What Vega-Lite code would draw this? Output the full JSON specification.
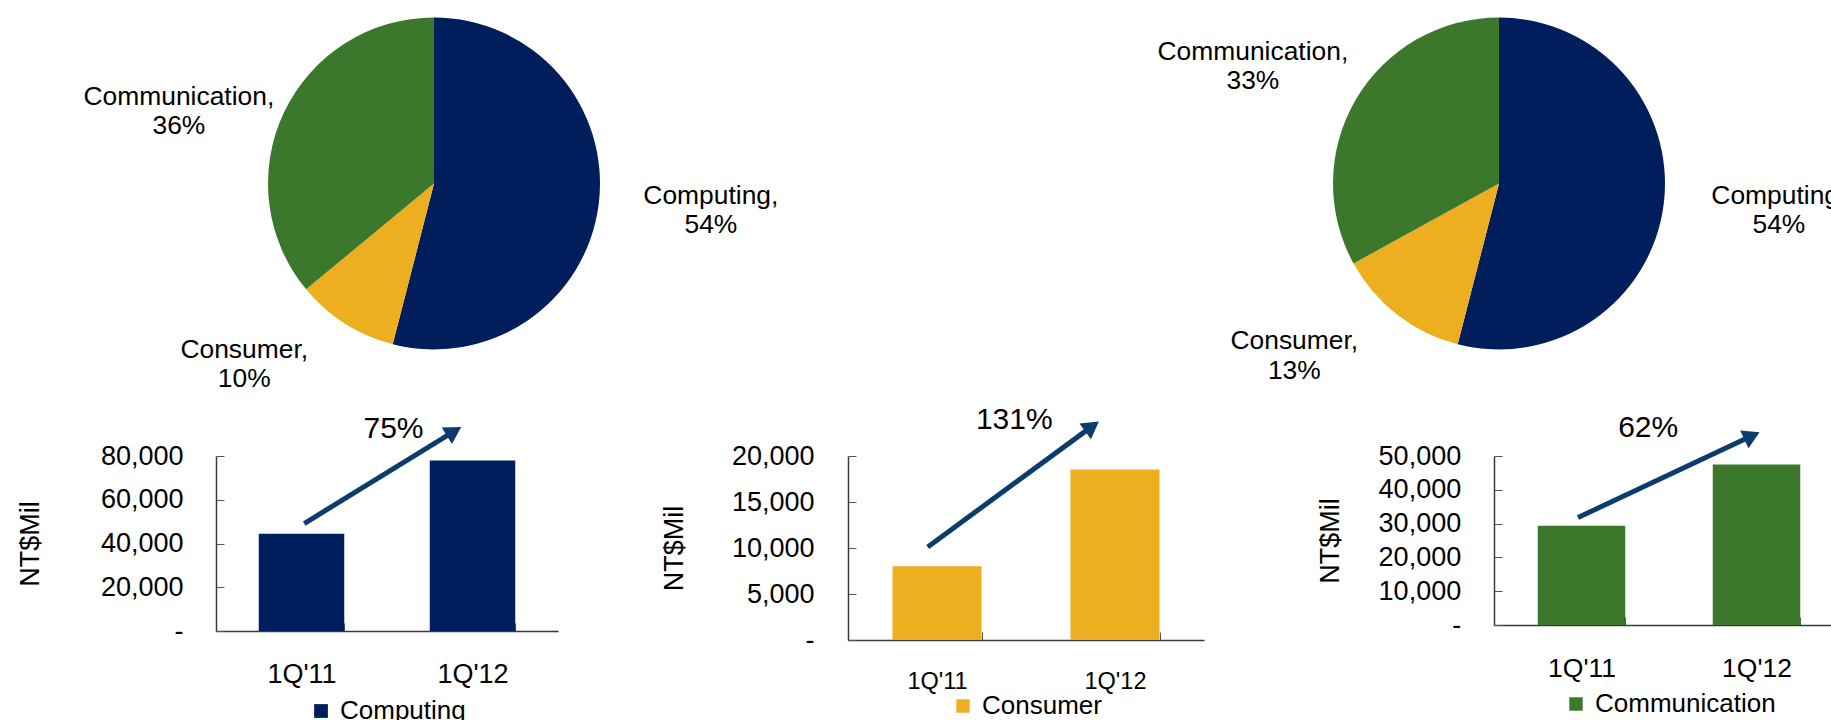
{
  "$schema": "https://vega.github.io/schema/vega-lite/v6.json",
  "background": "white",
  "padding": {"left": 16, "top": 17, "right": 0, "bottom": 0},
  "config": {
    "font": "Liberation Sans",
    "view": {"stroke": null},
    "axis": {"labelColor": "#000", "titleColor": "#000", "labelFont": "Liberation Sans", "titleFont": "Liberation Sans", "grid": false, "domainColor": "#3a3a3a", "domainWidth": 1.5, "tickColor": "#555", "tickWidth": 1, "labelOverlap": false},
    "legend": {"labelColor": "#000", "labelFont": "Liberation Sans", "labelLimit": 0, "layout": {"bottom": {"anchor": "middle"}}},
    "text": {"font": "Liberation Sans"}
  },
  "datasets": {
    "pies": [
      {"period": "1Q'11", "segment": "Computing", "share": 54},
      {"period": "1Q'11", "segment": "Consumer", "share": 10},
      {"period": "1Q'11", "segment": "Communication", "share": 36},
      {"period": "1Q'12", "segment": "Computing", "share": 54},
      {"period": "1Q'12", "segment": "Consumer", "share": 13},
      {"period": "1Q'12", "segment": "Communication", "share": 33}
    ],
    "bars": [
      {"segment": "Computing", "quarter": "1Q'11", "value": 44420},
      {"segment": "Computing", "quarter": "1Q'12", "value": 77900},
      {"segment": "Consumer", "quarter": "1Q'11", "value": 8010},
      {"segment": "Consumer", "quarter": "1Q'12", "value": 18520},
      {"segment": "Communication", "quarter": "1Q'11", "value": 29340},
      {"segment": "Communication", "quarter": "1Q'12", "value": 47520}
    ],
    "arrows": [
      {"segment": "Computing", "x_start": 0.516, "x_end": 1.392, "value": 49130, "value2": 91260},
      {"segment": "Consumer", "x_start": 0.448, "x_end": 1.371, "value": 10120, "value2": 23220},
      {"segment": "Communication", "x_start": 0.48, "x_end": 1.474, "value": 31790, "value2": 55970}
    ],
    "growth": [
      {"segment": "Computing", "pos": 1.038, "value": 92270, "label": "75%"},
      {"segment": "Consumer", "pos": 0.934, "value": 23960, "label": "131%"},
      {"segment": "Communication", "pos": 0.881, "value": 58210, "label": "62%"}
    ]
  },
  "spacing": 439,
  "bounds": "flush",
  "resolve": {"scale": {"color": "independent"}, "legend": {"color": "independent"}},
  "vconcat": [
    {
      "spacing": 629,
      "bounds": "flush",
      "resolve": {"scale": {"color": "independent"}, "legend": {"color": "independent"}},
      "hconcat": [
        {
          "width": 436, "height": 333,
          "data": {"name": "pies"},
          "transform": [
            {"filter": "datum.period == \"1Q'11\""},
            {"calculate": "indexof(['Computing','Consumer','Communication'], datum.segment)", "as": "ord"},
            {"calculate": "datum.segment + ',\\n' + datum.share + '%'", "as": "label"}
          ],
          "encoding": {
            "theta": {"field": "share", "type": "quantitative", "stack": true},
            "order": {"field": "ord", "type": "quantitative"}
          },
          "layer": [
            {"mark": {"type": "arc", "radius": 166},
             "encoding": {"color": {"field": "segment", "type": "nominal", "scale": {"domain": ["Computing", "Consumer", "Communication"], "range": ["#001E5B", "#EDAE1F", "#3C782C"]}, "legend": null}}},
            {"mark": {"type": "text", "radius": 272, "fontSize": 26.4, "lineHeight": 29.3, "lineBreak": "\n", "color": "#000",
                      "dx": {"expr": "datum.segment == 'Computing' ? 7 : datum.segment == 'Consumer' ? -44 : -9"},
                      "dy": {"expr": "datum.segment == 'Computing' ? -22 : datum.segment == 'Consumer' ? -63 : 29"}},
             "encoding": {"text": {"field": "label"}}}
          ]
        },
        {
          "width": 436, "height": 333,
          "data": {"name": "pies"},
          "transform": [
            {"filter": "datum.period == \"1Q'12\""},
            {"calculate": "indexof(['Computing','Consumer','Communication'], datum.segment)", "as": "ord"},
            {"calculate": "datum.segment + ',\\n' + datum.share + '%'", "as": "label"}
          ],
          "encoding": {
            "theta": {"field": "share", "type": "quantitative", "stack": true},
            "order": {"field": "ord", "type": "quantitative"}
          },
          "layer": [
            {"mark": {"type": "arc", "radius": 166},
             "encoding": {"color": {"field": "segment", "type": "nominal", "scale": {"domain": ["Computing", "Consumer", "Communication"], "range": ["#001E5B", "#EDAE1F", "#3C782C"]}, "legend": null}}},
            {"mark": {"type": "text", "radius": 272, "fontSize": 26.4, "lineHeight": 29.3, "lineBreak": "\n", "color": "#000",
                      "dx": {"expr": "datum.segment == 'Computing' ? 10 : datum.segment == 'Consumer' ? -38 : -12"},
                      "dy": {"expr": "datum.segment == 'Computing' ? -22 : datum.segment == 'Consumer' ? -57 : 7"}},
             "encoding": {"text": {"field": "label"}}}
          ]
        }
      ]
    },
    {
      "spacing": 290,
      "bounds": "flush",
      "resolve": {"scale": {"color": "independent"}, "legend": {"color": "independent"}},
      "hconcat": [
        {
          "width": 342, "height": 175,
          "layer": [
            {"data": {"name": "bars"}, "transform": [{"filter": "datum.segment == 'Computing'"}],
             "mark": {"type": "bar"},
             "encoding": {
               "x": {"field": "quarter", "type": "nominal", "sort": null, "scale": {"paddingInner": 0.5, "paddingOuter": 0.25},
                     "axis": {"title": null, "labelAngle": 0, "labelFontSize": 27, "labelPadding": 38.5, "tickSize": -8, "tickBand": "extent"}},
               "y": {"field": "value", "type": "quantitative", "scale": {"domain": [0, 80000], "nice": false},
                     "axis": {"title": "NT$Mil", "values": [0, 20000, 40000, 60000, 80000], "tickCount": 10, "labelExpr": "datum.value == 0 ? '-' : format(datum.value, ',')", "labelOverlap": false, "labelFontSize": 27, "labelPadding": 41, "tickSize": -8, "titleFontSize": 27, "titleFontWeight": "normal", "titlePadding": 56}},
               "color": {"field": "segment", "type": "nominal", "scale": {"domain": ["Computing"], "range": ["#001E5B"]},
                         "legend": {"title": null, "orient": "bottom", "offset": 10, "labelFontSize": 26, "labelLimit": 0, "symbolType": "square", "symbolSize": 190, "symbolStrokeWidth": 0, "labelOffset": 6, "padding": 0}}
             }},
            {"data": {"name": "arrows"}, "transform": [{"filter": "datum.segment == 'Computing'"}],
             "mark": {"type": "rule", "strokeWidth": 5, "color": "#0C3B6D"},
             "encoding": {
               "x": {"field": "x_start", "type": "quantitative", "scale": {"domain": [0, 2]}, "axis": null},
               "x2": {"field": "x_end"},
               "y": {"field": "value", "type": "quantitative", "scale": {"domain": [0, 80000], "nice": false}},
               "y2": {"field": "value2"}
             }},
            {"data": {"name": "arrows"}, "transform": [{"filter": "datum.segment == 'Computing'"}],
             "mark": {"type": "point", "shape": "triangle-up", "filled": true, "size": 380, "angle": 58.4, "color": "#0C3B6D", "opacity": 1},
             "encoding": {
               "x": {"field": "x_end", "type": "quantitative", "scale": {"domain": [0, 2]}, "axis": null},
               "y": {"field": "value2", "type": "quantitative", "scale": {"domain": [0, 80000], "nice": false}}
             }},
            {"data": {"name": "growth"}, "transform": [{"filter": "datum.segment == 'Computing'"}],
             "mark": {"type": "text", "fontSize": 30, "color": "#000"},
             "encoding": {
               "x": {"field": "pos", "type": "quantitative", "scale": {"domain": [0, 2]}, "axis": null},
               "y": {"field": "value", "type": "quantitative", "scale": {"domain": [0, 80000], "nice": false}},
               "text": {"field": "label"}
             }}
          ],
          "resolve": {"scale": {"x": "independent"}}
        },
        {
          "width": 356, "height": 184,
          "layer": [
            {"data": {"name": "bars"}, "transform": [{"filter": "datum.segment == 'Consumer'"}],
             "mark": {"type": "bar"},
             "encoding": {
               "x": {"field": "quarter", "type": "nominal", "sort": null, "scale": {"paddingInner": 0.5, "paddingOuter": 0.25},
                     "axis": {"title": null, "labelAngle": 0, "labelFontSize": 23.5, "labelPadding": 37, "tickSize": -8, "tickBand": "extent"}},
               "y": {"field": "value", "type": "quantitative", "scale": {"domain": [0, 20000], "nice": false},
                     "axis": {"title": "NT$Mil", "values": [0, 5000, 10000, 15000, 20000], "tickCount": 10, "labelExpr": "datum.value == 0 ? '-' : format(datum.value, ',')", "labelOverlap": false, "labelFontSize": 27, "labelPadding": 42, "tickSize": -8, "titleFontSize": 27, "titleFontWeight": "normal", "titlePadding": 43}},
               "color": {"field": "segment", "type": "nominal", "scale": {"domain": ["Consumer"], "range": ["#EDAE1F"]},
                         "legend": {"title": null, "orient": "bottom", "offset": 0, "labelFontSize": 26, "labelLimit": 0, "symbolType": "square", "symbolSize": 180, "symbolStrokeWidth": 0, "labelOffset": 6, "padding": 0}}
             }},
            {"data": {"name": "arrows"}, "transform": [{"filter": "datum.segment == 'Consumer'"}],
             "mark": {"type": "rule", "strokeWidth": 5, "color": "#0C3B6D"},
             "encoding": {
               "x": {"field": "x_start", "type": "quantitative", "scale": {"domain": [0, 2]}, "axis": null},
               "x2": {"field": "x_end"},
               "y": {"field": "value", "type": "quantitative", "scale": {"domain": [0, 20000], "nice": false}},
               "y2": {"field": "value2"}
             }},
            {"data": {"name": "arrows"}, "transform": [{"filter": "datum.segment == 'Consumer'"}],
             "mark": {"type": "point", "shape": "triangle-up", "filled": true, "size": 380, "angle": 54, "color": "#0C3B6D", "opacity": 1},
             "encoding": {
               "x": {"field": "x_end", "type": "quantitative", "scale": {"domain": [0, 2]}, "axis": null},
               "y": {"field": "value2", "type": "quantitative", "scale": {"domain": [0, 20000], "nice": false}}
             }},
            {"data": {"name": "growth"}, "transform": [{"filter": "datum.segment == 'Consumer'"}],
             "mark": {"type": "text", "fontSize": 30, "color": "#000"},
             "encoding": {
               "x": {"field": "pos", "type": "quantitative", "scale": {"domain": [0, 2]}, "axis": null},
               "y": {"field": "value", "type": "quantitative", "scale": {"domain": [0, 20000], "nice": false}},
               "text": {"field": "label"}
             }}
          ],
          "resolve": {"scale": {"x": "independent"}}
        },
        {
          "width": 350, "height": 169,
          "layer": [
            {"data": {"name": "bars"}, "transform": [{"filter": "datum.segment == 'Communication'"}],
             "mark": {"type": "bar"},
             "encoding": {
               "x": {"field": "quarter", "type": "nominal", "sort": null, "scale": {"paddingInner": 0.5, "paddingOuter": 0.25},
                     "axis": {"title": null, "labelAngle": 0, "labelFontSize": 26.5, "labelPadding": 38.3, "tickSize": -8, "tickBand": "extent"}},
               "y": {"field": "value", "type": "quantitative", "scale": {"domain": [0, 50000], "nice": false},
                     "axis": {"title": "NT$Mil", "values": [0, 10000, 20000, 30000, 40000, 50000], "tickCount": 10, "labelExpr": "datum.value == 0 ? '-' : format(datum.value, ',')", "labelOverlap": false, "labelFontSize": 27, "labelPadding": 41.3, "tickSize": -8, "titleFontSize": 27, "titleFontWeight": "normal", "titlePadding": 34}},
               "color": {"field": "segment", "type": "nominal", "scale": {"domain": ["Communication"], "range": ["#3C782C"]},
                         "legend": {"title": null, "orient": "bottom", "offset": 9, "labelFontSize": 26, "labelLimit": 0, "symbolType": "square", "symbolSize": 180, "symbolStrokeWidth": 0, "labelOffset": 6, "padding": 0}}
             }},
            {"data": {"name": "arrows"}, "transform": [{"filter": "datum.segment == 'Communication'"}],
             "mark": {"type": "rule", "strokeWidth": 5, "color": "#0C3B6D"},
             "encoding": {
               "x": {"field": "x_start", "type": "quantitative", "scale": {"domain": [0, 2]}, "axis": null},
               "x2": {"field": "x_end"},
               "y": {"field": "value", "type": "quantitative", "scale": {"domain": [0, 50000], "nice": false}},
               "y2": {"field": "value2"}
             }},
            {"data": {"name": "arrows"}, "transform": [{"filter": "datum.segment == 'Communication'"}],
             "mark": {"type": "point", "shape": "triangle-up", "filled": true, "size": 380, "angle": 64.8, "color": "#0C3B6D", "opacity": 1},
             "encoding": {
               "x": {"field": "x_end", "type": "quantitative", "scale": {"domain": [0, 2]}, "axis": null},
               "y": {"field": "value2", "type": "quantitative", "scale": {"domain": [0, 50000], "nice": false}}
             }},
            {"data": {"name": "growth"}, "transform": [{"filter": "datum.segment == 'Communication'"}],
             "mark": {"type": "text", "fontSize": 30, "color": "#000"},
             "encoding": {
               "x": {"field": "pos", "type": "quantitative", "scale": {"domain": [0, 2]}, "axis": null},
               "y": {"field": "value", "type": "quantitative", "scale": {"domain": [0, 50000], "nice": false}},
               "text": {"field": "label"}
             }}
          ],
          "resolve": {"scale": {"x": "independent"}}
        }
      ]
    }
  ]
}
